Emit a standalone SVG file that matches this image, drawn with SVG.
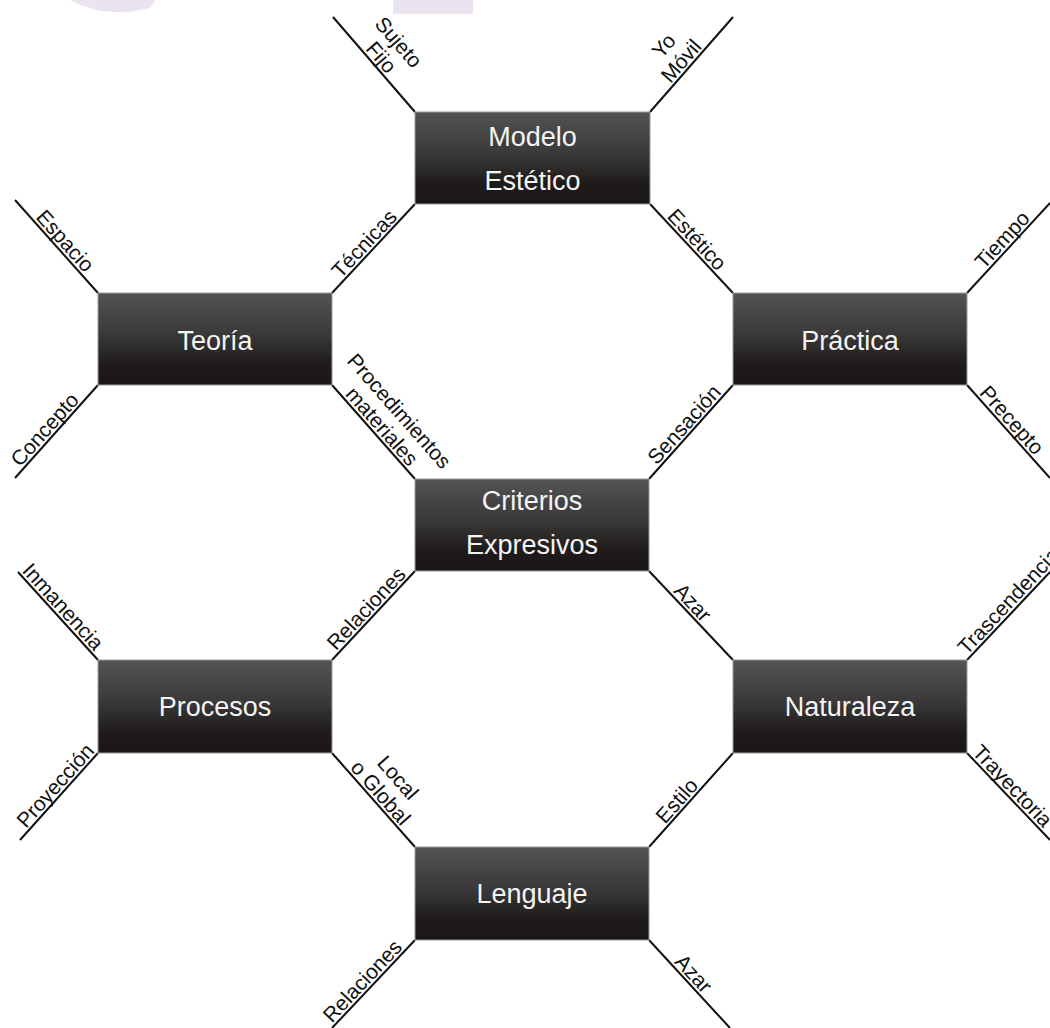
<svg xmlns="http://www.w3.org/2000/svg" width="1050" height="1028" viewBox="0 0 1050 1028">
<defs>
<linearGradient id="boxGrad" x1="0" y1="0" x2="0" y2="1">
<stop offset="0" stop-color="#545454"/>
<stop offset="0.45" stop-color="#3a3838"/>
<stop offset="0.78" stop-color="#1f1b1b"/>
<stop offset="1" stop-color="#1a1516"/>
</linearGradient>
<style>
.box{fill:url(#boxGrad);stroke:#9a9a9a;stroke-width:1}
.nt{font-family:"Liberation Sans",Arial,sans-serif;font-size:27px;fill:#f4f4f4;text-anchor:middle}
.lbl{font-family:"Liberation Sans",Arial,sans-serif;font-size:21px;fill:#111;text-anchor:middle}
.st{text-anchor:start}
.ln{stroke:#111;stroke-width:2;fill:none;stroke-linecap:butt}
.wm{fill:#ebe3ef}
</style>
</defs>
<rect width="1050" height="1028" fill="#ffffff"/>
<g id="watermark">
<rect class="wm" x="393" y="0" width="80" height="14"/>
<path class="wm" d="M70,0 Q95,14 130,12 L150,8 L155,0 Z"/>
</g>
<g id="connectors">
<line class="ln" x1="333" y1="17" x2="415" y2="112"/>
<line class="ln" x1="733" y1="17" x2="650" y2="112"/>
<line class="ln" x1="415" y1="204" x2="332" y2="293"/>
<line class="ln" x1="650" y1="204" x2="733" y2="293"/>
<line class="ln" x1="15" y1="200" x2="98" y2="293"/>
<line class="ln" x1="15" y1="478" x2="98" y2="385"/>
<line class="ln" x1="332" y1="385" x2="415" y2="479"/>
<line class="ln" x1="967" y1="293" x2="1050" y2="203"/>
<line class="ln" x1="733" y1="385" x2="649" y2="479"/>
<line class="ln" x1="967" y1="385" x2="1050" y2="478"/>
<line class="ln" x1="415" y1="571" x2="332" y2="660"/>
<line class="ln" x1="649" y1="571" x2="733" y2="660"/>
<line class="ln" x1="18" y1="572" x2="98" y2="660"/>
<line class="ln" x1="20" y1="840" x2="98" y2="753"/>
<line class="ln" x1="332" y1="753" x2="415" y2="847"/>
<line class="ln" x1="967" y1="660" x2="1050" y2="572"/>
<line class="ln" x1="733" y1="753" x2="649" y2="847"/>
<line class="ln" x1="967" y1="753" x2="1050" y2="840"/>
<line class="ln" x1="415" y1="940" x2="332" y2="1028"/>
<line class="ln" x1="649" y1="940" x2="730" y2="1028"/>
<g id="labels">
<text class="lbl" transform="translate(373.5,63.9) rotate(49.2)"><tspan x="0" y="-26">Sujeto</tspan><tspan x="0" y="-3">Fijo</tspan></text>
<text class="lbl" transform="translate(688.8,67.6) rotate(-48.9)"><tspan x="0" y="-26">Yo</tspan><tspan x="0" y="-3">Móvil</tspan></text>
<text class="lbl" transform="translate(371.6,250.6) rotate(-47)" y="-3">Técnicas</text>
<text class="lbl" transform="translate(689.6,246.4) rotate(47)" y="-3">Estético</text>
<text class="lbl" transform="translate(57.6,247.7) rotate(48.2)" y="-3">Espacio</text>
<text class="lbl" transform="translate(52.3,436.2) rotate(-48.2)" y="-3">Concepto</text>
<text class="lbl" transform="translate(374.4,433) rotate(48.6)"><tspan x="0" y="-26">Procedimientos</tspan><tspan x="0" y="-3">materiales</tspan></text>
<text class="lbl" transform="translate(1009.7,246.7) rotate(-47.3)" y="-3">Tiempo</text>
<text class="lbl" transform="translate(691.7,431.3) rotate(-48.2)" y="-3">Sensación</text>
<text class="lbl" transform="translate(1004.3,426.8) rotate(48.2)" y="-3">Precepto</text>
<text class="lbl" transform="translate(373.6,615.4) rotate(-47)" y="-3">Relaciones</text>
<text class="lbl" transform="translate(685.4,609.5) rotate(46.7)" y="-3">Azar</text>
<text class="lbl" transform="translate(55.6,613.4) rotate(47.7)" y="-3">Inmanencia</text>
<text class="lbl" transform="translate(62.8,792.3) rotate(-48.1)" y="-3">Proyección</text>
<text class="lbl" transform="translate(373,799.5) rotate(48.6)"><tspan x="0" y="-26">Local</tspan><tspan x="0" y="-3">o Global</tspan></text>
<text class="lbl st" transform="translate(969,657.8) rotate(-46.7)" y="-3">Trascendencia</text>
<text class="lbl" transform="translate(684.4,807.5) rotate(-48.2)" y="-3">Estilo</text>
<text class="lbl st" transform="translate(969.1,755.2) rotate(46.3)" y="-3">Trayectoria</text>
<text class="lbl" transform="translate(369.7,988) rotate(-46.7)" y="-3">Relaciones</text>
<text class="lbl" transform="translate(686.2,980.5) rotate(47.4)" y="-3">Azar</text>
</g>
</g>
<g id="node-modelo">
<rect class="box" x="415" y="112" width="235" height="92"/>
<text class="nt" x="532.5" y="146">Modelo</text>
<text class="nt" x="532.5" y="190">Estético</text>
</g>
<g id="node-teoria">
<rect class="box" x="98" y="293" width="234" height="92"/>
<text class="nt" x="215" y="350">Teoría</text>
</g>
<g id="node-practica">
<rect class="box" x="733" y="293" width="234" height="92"/>
<text class="nt" x="850" y="350">Práctica</text>
</g>
<g id="node-criterios">
<rect class="box" x="415" y="479" width="234" height="92"/>
<text class="nt" x="532" y="510">Criterios</text>
<text class="nt" x="532" y="554">Expresivos</text>
</g>
<g id="node-procesos">
<rect class="box" x="98" y="660" width="234" height="93"/>
<text class="nt" x="215" y="716">Procesos</text>
</g>
<g id="node-naturaleza">
<rect class="box" x="733" y="660" width="234" height="93"/>
<text class="nt" x="850" y="716">Naturaleza</text>
</g>
<g id="node-lenguaje">
<rect class="box" x="415" y="847" width="234" height="93"/>
<text class="nt" x="532" y="903">Lenguaje</text>
</g>
</svg>
